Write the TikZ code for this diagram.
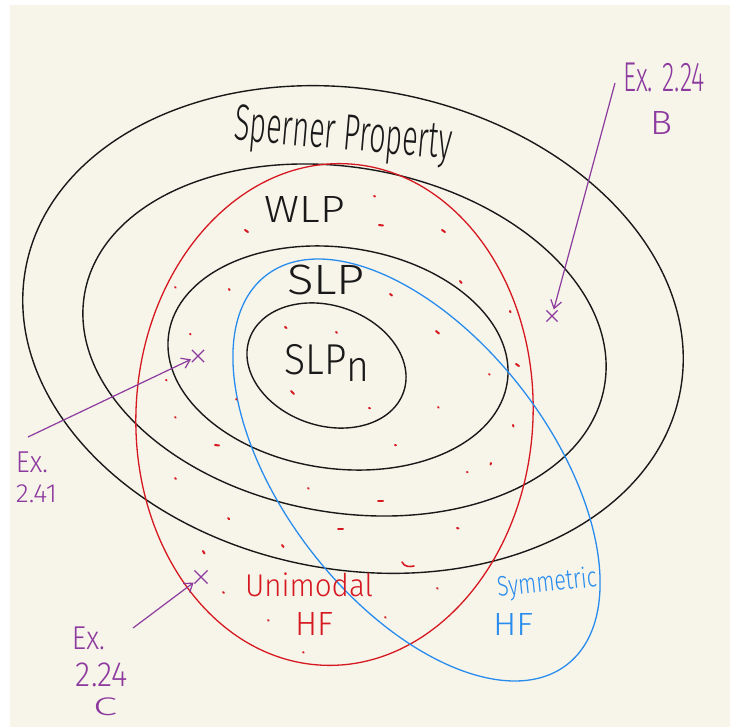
\documentclass[tikz,border=0pt]{standalone}
\usepackage{fontspec}
\setmainfont{Fira Sans Light}
\usepackage{graphicx}
\usetikzlibrary{arrows.meta,shapes.misc}
\definecolor{cream}{RGB}{247,245,234}
\definecolor{hred}{RGB}{214,24,32}
\definecolor{hblue}{RGB}{40,140,238}
\definecolor{hpurple}{RGB}{140,58,158}
\definecolor{hink}{RGB}{25,25,25}
\begin{document}
\begin{tikzpicture}[x=1pt,y=-1pt,
  setline/.style={draw=hink,line width=1.4pt},
  uniline/.style={draw=hred,line width=1.3pt},
  symline/.style={draw=hblue,line width=1.3pt},
  dab/.style={draw=hred,line width=2pt,line cap=round},
  lbl/.style={inner sep=0pt,text=hink},
  unilbl/.style={inner sep=0pt,text=hred},
  symlbl/.style={inner sep=0pt,text=hblue},
  exlbl/.style={inner sep=0pt,text=hpurple},
  xmark/.style={cross out,draw=hpurple,line width=1.2pt,minimum size=10pt,inner sep=0pt},
  exarrow/.style={draw=hpurple,line width=1.2pt,shorten >=1pt,-{Straight Barb[length=8pt,width=11pt]}}
]
\useasboundingbox (0,0) rectangle (730,727);
\fill[white] (0,0) rectangle (730,727);
\fill[cream] (10,5) rectangle (730,727);

% black property ellipses
\draw[setline, rotate around={-10.7:(353,329.5)}] (353,329.5) ellipse [x radius=333, y radius=240];
\draw[setline, rotate around={-10.2:(344.5,340)}] (344.5,340) ellipse [x radius=264, y radius=172.4];
\draw[setline, rotate around={-7.9:(338,358)}] (338,358) ellipse [x radius=171, y radius=110.6];
\draw[setline, rotate around={-18.8:(326.5,365.5)}] (326.5,365.5) ellipse [x radius=81.5, y radius=60];

% unimodal (red) and symmetric (blue)
\draw[uniline, rotate around={-3:(334.5,414.5)}] (334.5,414.5) ellipse [x radius=198.5, y radius=251];
\draw[symline, rotate around={-52.3:(416.5,470)}] (416.5,470) ellipse [x radius=246, y radius=133];

% red hatching marks
\foreach \px/\py/\dx/\dy in {
  245/230/3/2, 175/287/0.6/0.6, 229/289/0.6/1, 190/334/0.6/0.4, 285/327/1.5/1,
  336/332/1/0.8, 166/380/0.6/0.4, 291/391/3/3, 236/399/0.6/0.6, 175/417/0.6/0.6,
  374/196/1/0.5, 379/225/4/0.5, 442/230/3/2, 460/281/1.5/2, 390/294/2/1.5,
  436/331/3/2.5, 510/311/0.5/1.2, 516/364/3/2, 489/374/0.6/0.6, 369/408/1/0.3,
  438/407/0.6/0.6, 513/425/0.5/1.5, 215/445/4/0.5, 395/445/1/0.3, 175/478/1/1,
  308/488/0.6/0.6, 228/518/1.2/1.2, 282/545/1.5/2, 203/551/1.5/2.5, 338/529/5/0,
  491/463/-0.5/1.5, 467/472/0.5/0.3, 378/501/5/0, 457/528/1.5/0.5, 437/588/0.6/0.6,
  223/592/0.8/0.8, 268/620/0.6/0.6, 303/652/0.6/0.6, 385/617/0.6/0.6}
  \draw[dab] (\px,\py) -- ++(\dx,\dy);
\draw[dab,line width=1.6pt] (402,562) .. controls (404,567) and (410,567) .. (414,566);

% labels
\node[lbl,rotate=-5] (sperner) at (343,137) {\resizebox*{218pt}{46pt}{Sperner Property}};
\node[lbl] (wlp) at (305,210) {\resizebox*{80pt}{26pt}{WLP}};
\node[lbl] (slp) at (326,280) {\resizebox*{78pt}{30pt}{SLP}};
\node[lbl] (slpn) at (327,363) {\resizebox*{85pt}{37pt}{SLP\raisebox{-0.16em}{n}}};
\node[unilbl] (uni1) at (309,585) {\resizebox*{128pt}{24pt}{Unimodal}};
\node[unilbl] (uni2) at (314,623.5) {\resizebox*{38pt}{23pt}{HF}};
\node[symlbl,rotate=6] (sym1) at (547,584) {\resizebox*{100pt}{27pt}{Symmetric}};
\node[symlbl] (sym2) at (513,624.5) {\resizebox*{40pt}{22pt}{HF}};
\node[exlbl] (exB1) at (664,77.5) {\resizebox*{82pt}{29pt}{Ex. 2.24}};
\node[exlbl] (exB2) at (661,123.5) {\resizebox*{22pt}{23pt}{B}};
\node[exlbl] (exA1) at (32,462.5) {\resizebox*{32pt}{21pt}{Ex.}};
\node[exlbl] (exA2) at (36.5,494) {\resizebox*{41pt}{18pt}{2.41}};
\node[exlbl] (exC1) at (88.5,638.5) {\resizebox*{33pt}{23pt}{Ex.}};
\node[exlbl] (exC2) at (102,675) {\resizebox*{52pt}{24pt}{2.24}};
\node[exlbl] (exC3) at (105,707) {\resizebox*{24pt}{18pt}{C}};

% example marks and arrows
\coordinate (aB) at (615,83);
\node[xmark] (xB) at (552,316) {};
\draw[exarrow] (aB) -- (xB);
\coordinate (aA) at (28,437);
\node[xmark,minimum size=11pt] (xA) at (198,356) {};
\draw[exarrow] (aA) -- (xA);
\coordinate (aC) at (133,628);
\node[xmark,minimum size=12pt] (xC) at (201,577) {};
\draw[exarrow] (aC) -- (xC);
\end{tikzpicture}
\end{document}
